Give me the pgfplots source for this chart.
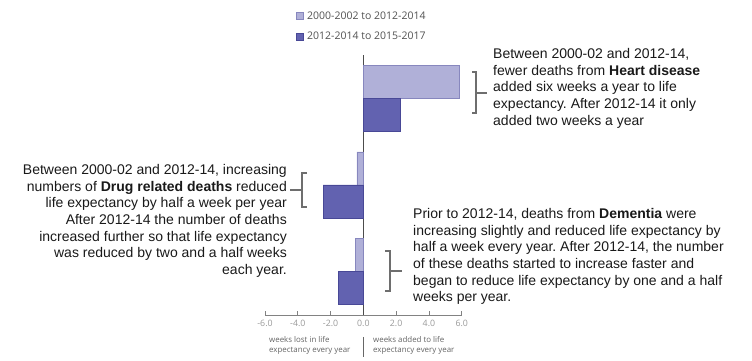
\documentclass[border=0pt]{standalone}
\usepackage{pgfplots}
\pgfplotsset{compat=1.18}
\usepackage{fontspec}
\setmainfont{Liberation Sans}
\newfontfamily\uifont{Open Sans}
\frenchspacing
\definecolor{lightbar}{RGB}{176,176,216}
\definecolor{darkbar}{RGB}{98,98,176}
\definecolor{lightedge}{RGB}{135,135,190}
\definecolor{darkedge}{RGB}{72,72,150}
\definecolor{txt}{RGB}{25,25,25}
\definecolor{brk}{RGB}{110,110,110}
\definecolor{axgrey}{RGB}{130,130,130}
\definecolor{lbl}{RGB}{100,100,100}

\begin{document}
\begin{tikzpicture}
\path[use as bounding box] (0,0) rectangle (752bp,361bp);
\begin{axis}[
  at={(265bp,46bp)}, anchor=south west,
  scale only axis, width=196.7bp, height=260bp,
  xbar, bar width=33bp,
  xmin=-6, xmax=6, ymin=-0.5, ymax=2.5,
  axis x line=bottom, axis y line=middle,
  axis line style={-},
  every outer x axis line/.append style={-, color=axgrey, line width=0.7pt},
  every inner y axis line/.append style={-, color=black!70, line width=0.7pt},
  every outer y axis line/.append style={-},
  every inner x axis line/.append style={-},
  xtick={-6,-4,-2,0,2,4,6},
  xticklabels={-6.0,-4.0,-2.0,0.0,2.0,4.0,6.0},
  ytick=\empty,
  tick align=inside, major tick length=4bp,
  x tick style={color=axgrey, line width=0.6pt},
  xticklabel style={font=\uifont\fontsize{8.8bp}{10bp}\selectfont, color=black!40, inner sep=0pt},
  xticklabel shift=4.5bp,
  legend style={at={(0.1576,1.175)}, anchor=north west, draw=none, fill=none,
    font=\uifont\fontsize{10.5bp}{12bp}\selectfont, text=black!68,
    inner sep=0pt, row sep=7bp, column sep=1.5bp, legend cell align=left},
]
\addplot[fill=lightbar, draw=lightedge, line width=0.6pt, bar shift=16.5bp,
  legend image code/.code={\draw[fill=lightbar, draw=lightedge, line width=0.5pt] (0bp,-3.5bp) rectangle (7bp,3.5bp);}]
  coordinates {(5.85,2) (-0.4,1) (-0.5,0)};
\addplot[fill=darkbar, draw=darkedge, line width=0.6pt, bar shift=-16.5bp,
  legend image code/.code={\draw[fill=darkbar, draw=darkedge, line width=0.5pt] (0bp,-3.5bp) rectangle (7bp,3.5bp);}]
  coordinates {(2.25,2) (-2.45,1) (-1.5,0)};
\legend{2000-2002 to 2012-2014, 2012-2014 to 2015-2017}
\end{axis}

% annotations
\begin{scope}[every node/.style={inner sep=0pt, text=txt, font=\fontsize{14bp}{16.7bp}\selectfont}]
\node[anchor=north west, align=left] at (493bp,313bp)
 {Between 2000-02 and 2012-14,\\fewer deaths from \textbf{Heart disease}\\added six weeks a year to life\\expectancy. After 2012-14 it only\\added two weeks a year};
\node[anchor=north east, align=right] at (287bp,197bp)
 {Between 2000-02 and 2012-14, increasing\\numbers of \textbf{Drug related deaths} reduced\\life expectancy by half a week per year\\After 2012-14 the number of deaths\\increased further so that life expectancy\\was reduced by two and a half weeks\\each year.};
\node[anchor=north west, align=left] at (413bp,153bp)
 {Prior to 2012-14, deaths from \textbf{Dementia} were\\increasing slightly and reduced life expectancy by\\half a week every year. After 2012-14, the number\\of these deaths started to increase faster and\\began to reduce life expectancy by one and a half\\weeks per year.};
\end{scope}

% brackets
\begin{scope}[draw=brk, line width=1.3pt]
\draw (472bp,289bp) -- (476bp,289bp) -- (476bp,248bp) -- (472bp,248bp);
\draw (476bp,268bp) -- (487bp,268bp);
\draw (307bp,188bp) -- (302bp,188bp) -- (302bp,154bp) -- (307bp,154bp);
\draw (302bp,171bp) -- (290bp,171bp);
\draw (385bp,110bp) -- (390bp,110bp) -- (390bp,70bp) -- (385bp,70bp);
\draw (390bp,90bp) -- (402bp,90bp);
\end{scope}

% bottom labels
\draw[color=black!60, line width=0.7pt] (363.3bp,24bp) -- (363.3bp,4bp);
\begin{scope}[every node/.style={inner sep=0pt, text=lbl, font=\uifont\fontsize{7.9bp}{10.5bp}\selectfont}]
\node[anchor=north west, align=left] at (269bp,25bp) {weeks lost in life\\expectancy every year};
\node[anchor=north west, align=left] at (373bp,25bp) {weeks added to life\\expectancy every year};
\end{scope}
\end{tikzpicture}
\end{document}
